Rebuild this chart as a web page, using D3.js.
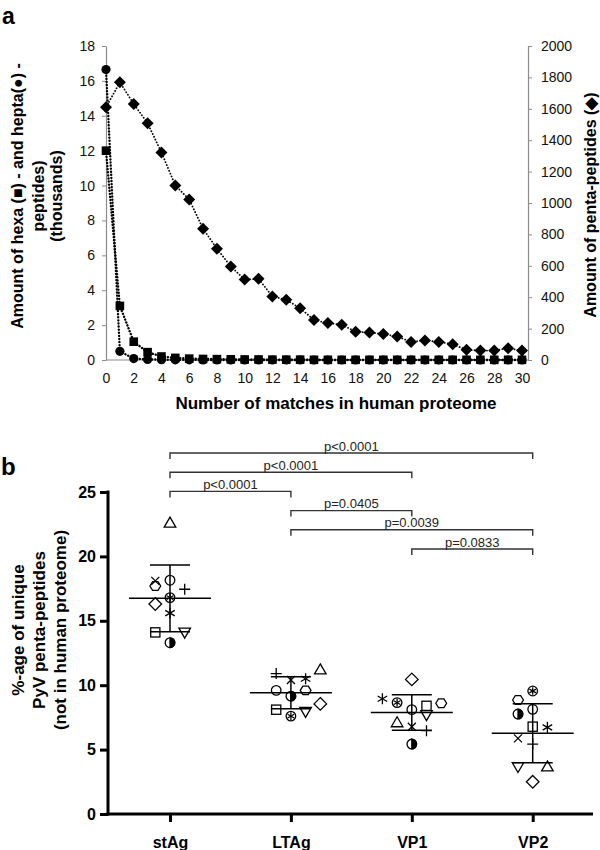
<!DOCTYPE html>
<html><head><meta charset="utf-8">
<script src="https://cdn.jsdelivr.net/npm/d3@7"></script>
<style>
body{margin:0;background:#fff}
svg{display:block}
text{font-family:"Liberation Sans",Arial,Helvetica,sans-serif}
</style>
</head><body>
<svg id="chart" width="600" height="850"></svg>
<script>
// ---------- Panel a data ----------
const matchCounts = [0,1,2,3,4,5,6,7,8,9,10,11,12,13,14,15,16,17,18,19,20,21,22,23,24,25,26,27,28,29,30];
const xTickLabels = [0,2,4,6,8,10,12,14,16,18,20,22,24,26,28,30];
const pentaPeptides = [1610,1769,1631,1508,1322,1112,1022,836,709,596,512,517,405,383,330,255,235,225,180,175,165,150,115,125,115,100,65,60,60,75,60];
const hexaPeptidesK = [12.0,3.1,1.05,0.45,0.2,0.12,0.08,0.06,0.05,0.04,0.03,0.03,0.02,0.02,0.02,0.01,0.01,0.01,0.01,0.01,0.01,0.01,0.01,0.01,0.01,0.01,0.01,0.01,0.01,0.01,0.01];
const heptaPeptidesK = [16.65,0.5,0.08,0.03,0.02,0.01,0.01,0,0,0,0,0,0,0,0,0,0,0,0,0,0,0,0,0,0,0,0,0,0,0,0];
const leftTicks = [0,2,4,6,8,10,12,14,16,18];
const rightTicks = [0,200,400,600,800,1000,1200,1400,1600,1800,2000];

// ---------- Panel b data ----------
const proteins = ["stAg","LTAg","VP1","VP2"];
const virusSymbols = ["triangleUp","cross","hexagon","circle","plus","circledStar","diamond","asterisk","square","triangleDown","halfCircle"];
const stAgValues = [22.6,18.1,17.7,18.15,17.45,16.8,16.3,15.6,14.1,14.1,13.3];
const LTAgValues = [11.2,10.4,9.6,9.6,10.9,7.6,8.55,10.5,8.1,7.95,9.15];
const VP1Values  = [7.1,6.78,8.6,8.1,6.47,8.65,10.45,8.95,8.4,7.7,5.43];
const VP2Values  = [3.67,5.87,8.85,8.13,5.43,9.55,2.5,6.73,6.78,3.67,7.76];
// horizontal jitter column of each symbol within its group
const stAgColumns = [0,-1,-1,0,1,0,-1,0,-1,1,0];
const LTAgColumns = [2,0,1,-1,-1,0,2,1,-1,1,0];
const VP1Columns  = [-1,0,2,0,1,-1,0,-2,1,1,0];
const VP2Columns  = [1,-1,-1,0,0,0,0,1,0,-1,-1];
const percentTicks = [0,5,10,15,20,25];
const comparisonFrom = ["stAg","stAg","stAg","LTAg","LTAg","VP1"];
const comparisonTo   = ["VP2","VP1","LTAg","VP1","VP2","VP2"];
const comparisonP    = ["p<0.0001","p<0.0001","p<0.0001","p=0.0405","p=0.0039","p=0.0833"];

const svg = d3.select("#chart");
const FONT = '"Liberation Sans",Arial,Helvetica,sans-serif';

// ================= PANEL A =================
const gA = svg.append("g");
const xA = d3.scaleLinear().domain([0,30]).range([106,522]);
const yL = d3.scaleLinear().domain([0,18]).range([360,46]);
const yR = d3.scaleLinear().domain([0,2000]).range([360,46]);
const axisGray = "#8c8c8c";

gA.append("text").attr("x",2).attr("y",24).attr("font-size",23).attr("font-weight","bold").text("a");

const la = gA.append("g").attr("transform","translate(106,0)")
  .call(d3.axisLeft(yL).tickValues(leftTicks).tickSize(4).tickPadding(7).tickSizeOuter(0).tickFormat(d3.format("d")));
const ra = gA.append("g").attr("transform","translate(528,0)")
  .call(d3.axisRight(yR).tickValues(rightTicks).tickSize(4).tickPadding(9).tickSizeOuter(0).tickFormat(d3.format("d")));
const xa = gA.append("g").attr("transform","translate(0,360)")
  .call(d3.axisBottom(xA).tickValues(xTickLabels).tickSize(0).tickPadding(13).tickFormat(d3.format("d")));
xa.select(".domain").remove();
gA.append("line").attr("x1",106).attr("x2",528).attr("y1",360).attr("y2",360).attr("stroke",axisGray).attr("stroke-width",1.2);
[la,ra,xa].forEach(a=>{
  a.selectAll(".domain").attr("stroke",axisGray).attr("stroke-width",1.2);
  a.selectAll(".tick line").attr("stroke",axisGray);
  a.selectAll(".tick text").attr("font-size",14).attr("font-family",FONT).attr("fill","#111");
});

gA.append("text").attr("x",336).attr("y",409).attr("text-anchor","middle")
  .attr("font-size",17).attr("font-weight","bold").text("Number of matches in human proteome");
const leftTitle = ["Amount of hexa (\u25A0) - and hepta(\u25CF) -","peptides)","(thousands)"];
const leftTitleX = [23,44,62];
leftTitle.forEach((t,i)=>{
  gA.append("text").attr("transform",`translate(${leftTitleX[i]},196) rotate(-90)`)
    .attr("text-anchor","middle").attr("font-size",16).attr("font-weight","bold").text(t);
});
gA.append("text").attr("transform","translate(596,205) rotate(-90)")
  .attr("text-anchor","middle").attr("font-size",16).attr("font-weight","bold").text("Amount of penta-peptides (\u25C6)");

const dotted = (sel,w)=>sel.attr("fill","none").attr("stroke","#000").attr("stroke-width",w)
  .attr("stroke-linecap","round").attr("stroke-dasharray","0.1,3");
const lineL = d3.line().x((d,i)=>xA(matchCounts[i])).y(d=>yL(d));
const lineR = d3.line().x((d,i)=>xA(matchCounts[i])).y(d=>yR(d));
dotted(gA.append("path").attr("d",lineR(pentaPeptides)),1.8);
dotted(gA.append("path").attr("d",lineL(heptaPeptidesK)),2.4);
dotted(gA.append("path").attr("d",lineL(hexaPeptidesK)),2.4);

gA.selectAll(".hepta").data(heptaPeptidesK).join("circle")
  .attr("cx",(d,i)=>xA(matchCounts[i])).attr("cy",d=>yL(d)).attr("r",4.6).attr("fill","#000");
gA.selectAll(".hexa").data(hexaPeptidesK).join("rect")
  .attr("x",(d,i)=>xA(matchCounts[i])-4.3).attr("y",d=>yL(d)-4.3).attr("width",8.6).attr("height",8.6).attr("fill","#000");
gA.selectAll(".penta").data(pentaPeptides).join("path")
  .attr("transform",(d,i)=>`translate(${xA(matchCounts[i])},${yR(d)})`)
  .attr("d","M0,-6L6,0L0,6L-6,0Z").attr("fill","#000");

// ================= PANEL B =================
const gB = svg.append("g");
const yB = d3.scaleLinear().domain([0,25]).range([814,492]);
const xB = d3.scalePoint().domain(proteins).range([170,532.7]);
const colStep = 14.7;

gB.append("text").attr("x",1).attr("y",475).attr("font-size",24).attr("font-weight","bold").text("b");

const ya = gB.append("g").attr("transform","translate(108,0)")
  .call(d3.axisLeft(yB).tickValues(percentTicks).tickSize(8).tickPadding(4).tickSizeOuter(0));
ya.select(".domain").remove();
ya.selectAll(".tick line").attr("stroke","#000").attr("stroke-width",3);
ya.selectAll(".tick text").attr("font-size",16).attr("font-weight","bold").attr("font-family",FONT).attr("fill","#000");
gB.append("line").attr("x1",108).attr("x2",108).attr("y1",490.5).attr("y2",815.5).attr("stroke","#000").attr("stroke-width",3);

const xb = gB.append("g").attr("transform","translate(0,814)")
  .call(d3.axisBottom(xB).tickSize(8).tickPadding(15).tickSizeOuter(0));
xb.select(".domain").remove();
xb.selectAll(".tick line").attr("stroke","#000").attr("stroke-width",3);
xb.selectAll(".tick text").attr("font-size",16).attr("font-weight","bold").attr("font-family",FONT).attr("fill","#000");
gB.append("line").attr("x1",106.5).attr("x2",593).attr("y1",814).attr("y2",814).attr("stroke","#000").attr("stroke-width",3);

const titleB = ["%-age of unique","PyV penta-peptides","(not in human proteome)"];
const titleBX = [24,45,66];
titleB.forEach((t,i)=>{
  gB.append("text").attr("transform",`translate(${titleBX[i]},630) rotate(-90)`)
    .attr("text-anchor","middle").attr("font-size",17).attr("font-weight","bold").text(t);
});

function drawSymbol(g,type,cx,cy){
  const s = g.append("g").attr("transform",`translate(${cx},${cy})`)
    .attr("fill","none").attr("stroke","#000").attr("stroke-width",1.3);
  const ast = (r)=>{[90,30,150].forEach(a=>{const t=a*Math.PI/180;
    s.append("line").attr("x1",-r*Math.cos(t)).attr("y1",-r*Math.sin(t)).attr("x2",r*Math.cos(t)).attr("y2",r*Math.sin(t));});};
  switch(type){
    case "circle": s.append("circle").attr("r",4.8); break;
    case "square": s.append("rect").attr("x",-4.6).attr("y",-4.6).attr("width",9.2).attr("height",9.2); break;
    case "triangleUp": s.append("path").attr("d","M0,-5.8L5.8,4.2L-5.8,4.2Z"); break;
    case "triangleDown": s.append("path").attr("d","M0,5.8L5.8,-4.2L-5.8,-4.2Z"); break;
    case "diamond": s.append("path").attr("d","M0,-6.3L6.3,0L0,6.3L-6.3,0Z"); break;
    case "hexagon": s.append("path").attr("d","M-5.4,0L-2.7,-4.3L2.7,-4.3L5.4,0L2.7,4.3L-2.7,4.3Z"); break;
    case "cross": s.append("path").attr("d","M-4,-4L4,4M-4,4L4,-4"); break;
    case "plus": s.append("path").attr("d","M-5.5,0L5.5,0M0,-5.5L0,5.5"); break;
    case "asterisk": ast(5.5); break;
    case "circledStar": s.append("circle").attr("r",4.8); ast(3.8); break;
    case "halfCircle":
      s.append("path").attr("d","M0,-4.8A4.8,4.8 0 0 1 0,4.8Z").attr("fill","#000");
      s.append("circle").attr("r",4.8); break;
  }
}

const groupValues = [stAgValues,LTAgValues,VP1Values,VP2Values];
const groupColumns = [stAgColumns,LTAgColumns,VP1Columns,VP2Columns];
proteins.forEach((p,gi)=>{
  const vals = groupValues[gi], cols = groupColumns[gi];
  const cx = xB(p);
  const mean = d3.mean(vals), sd = d3.deviation(vals);
  vals.forEach((v,i)=> drawSymbol(gB, virusSymbols[i], cx + cols[i]*colStep, yB(v)));
  const ln = (x1,y1,x2,y2)=>gB.append("line").attr("x1",x1).attr("x2",x2).attr("y1",y1).attr("y2",y2)
      .attr("stroke","#000").attr("stroke-width",1.5);
  ln(cx-41,yB(mean),cx+41,yB(mean));
  ln(cx-20,yB(mean+sd),cx+20,yB(mean+sd));
  ln(cx-20,yB(mean-sd),cx+20,yB(mean-sd));
  ln(cx,yB(mean+sd),cx,yB(mean-sd));
});

comparisonP.forEach((t,i)=>{
  const y = 453 + i*19.2;
  const x1 = xB(comparisonFrom[i]), x2 = xB(comparisonTo[i]);
  gB.append("path").attr("d",`M${x1},${y+6}V${y}H${x2}V${y+6}`)
    .attr("fill","none").attr("stroke","#333").attr("stroke-width",1.4);
  gB.append("text").attr("x",(x1+x2)/2).attr("y",y-2.5).attr("text-anchor","middle")
    .attr("font-size",13).attr("fill","#222").text(t);
});
</script>
</body></html>
